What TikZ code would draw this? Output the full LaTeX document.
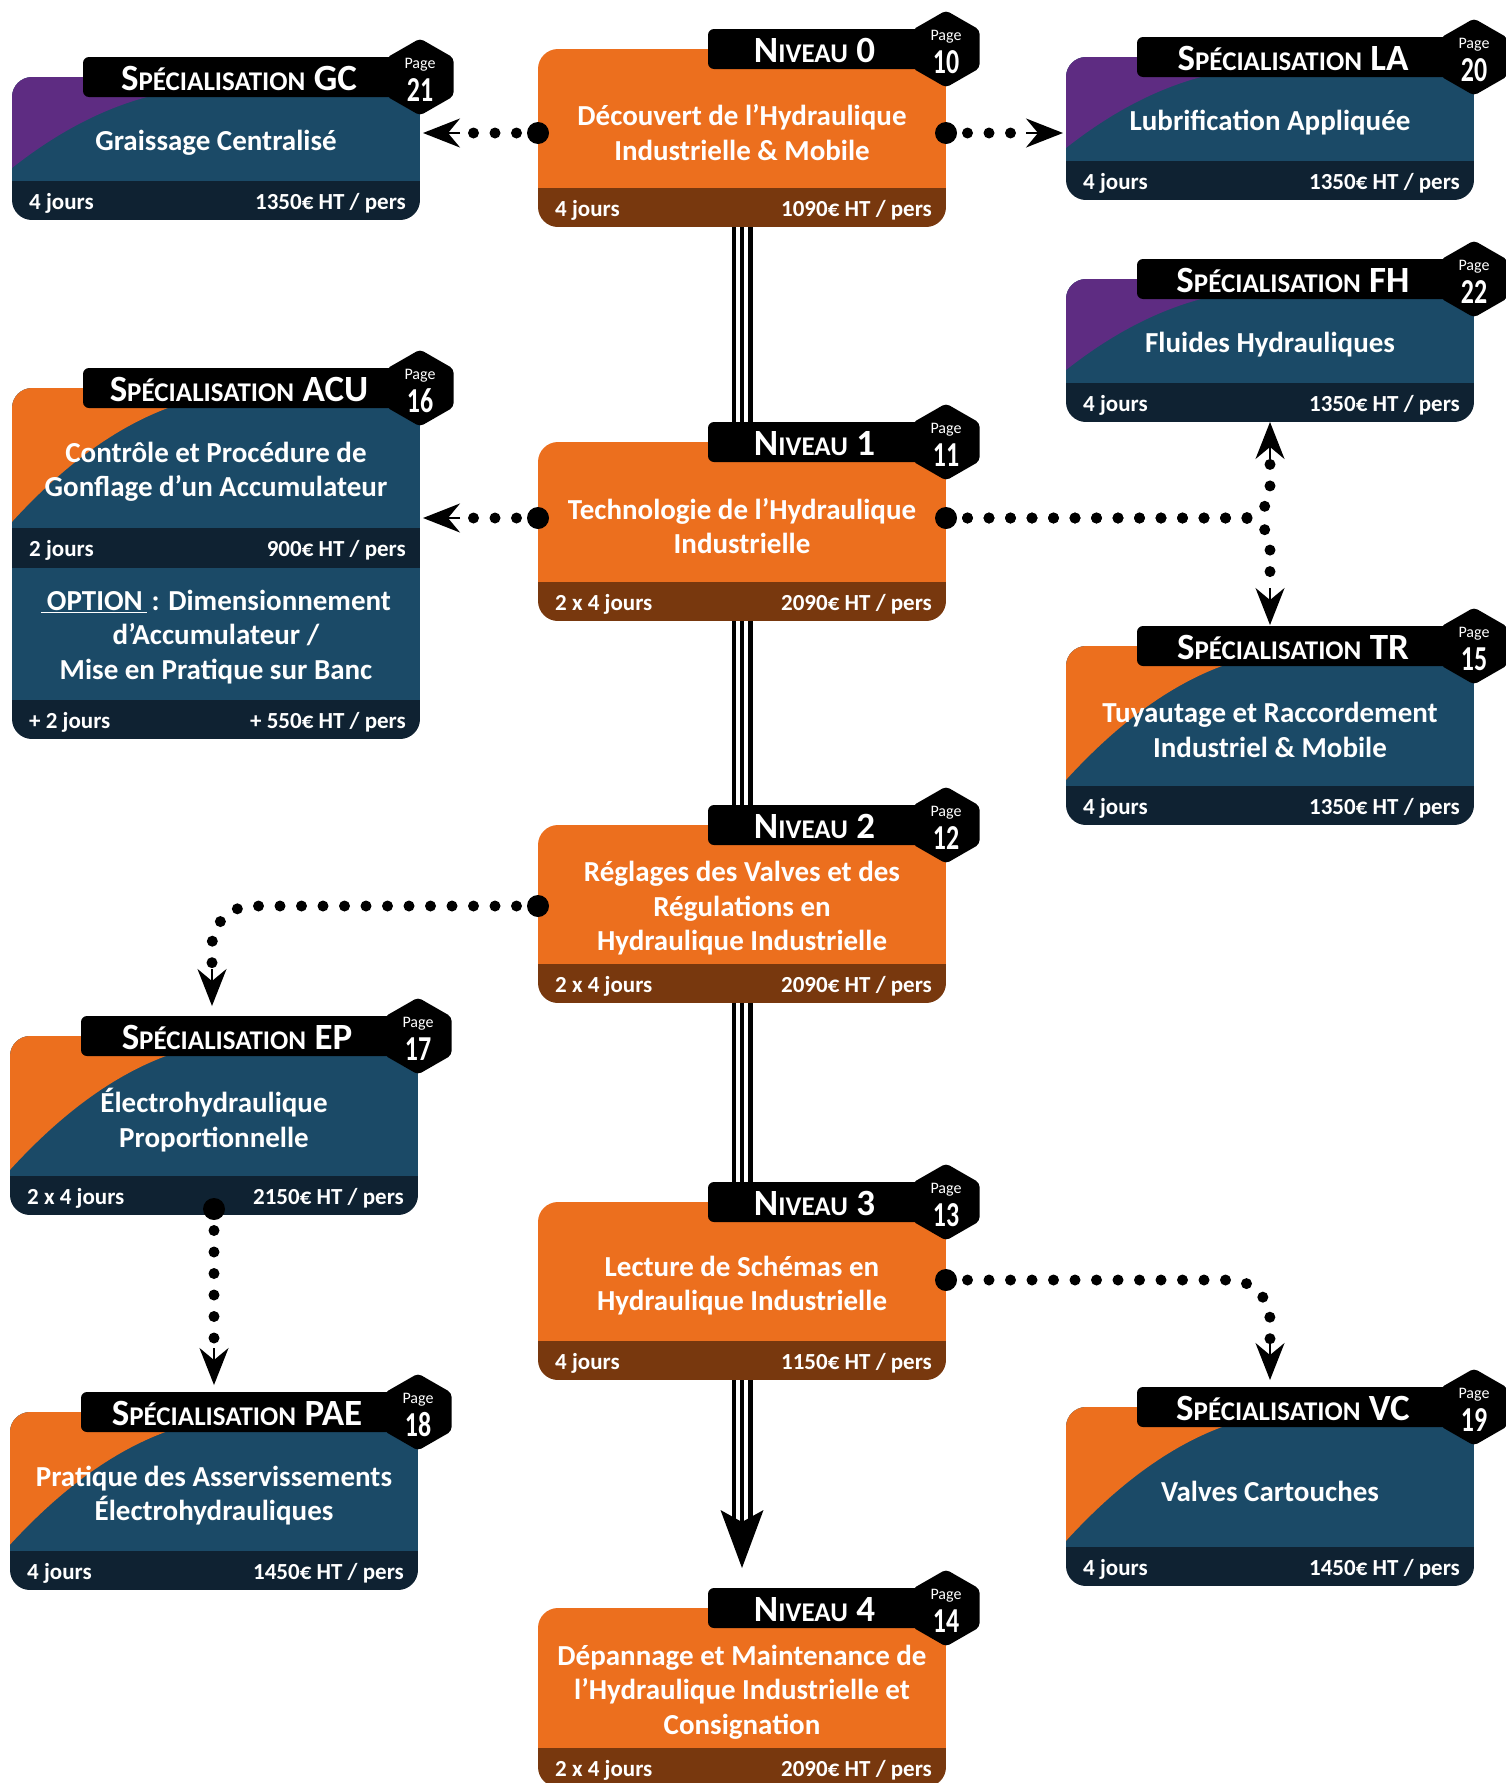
\documentclass[tikz,border=0pt]{standalone}
\usepackage{fontspec}
\setmainfont{Carlito}
\usepackage{graphicx}
\usetikzlibrary{arrows.meta,calc}
\pgfdeclarelayer{background}
\pgfsetlayers{background,main}
\definecolor{cOrange}{RGB}{236,111,30}
\definecolor{cBrown}{RGB}{120,56,14}
\definecolor{cBlue}{RGB}{27,74,103}
\definecolor{cDark}{RGB}{15,34,50}
\definecolor{cPurple}{RGB}{94,44,130}
\newcommand\sct[3]{{\fontsize{37}{37}\selectfont#1}{\fontsize{27}{27}\selectfont#2}{\fontsize{37}{37}\selectfont#3}}
\tikzset{
  dotsty/.style={line width=11pt, line cap=round, dash pattern=on 0pt off 21.5pt},
  tipsty/.style={-{Stealth[length=37pt,width=29pt,inset=12pt]}, line width=2pt},
  bodytxt/.style={text=white, align=center, inner sep=0pt, font=\fontsize{29}{34.5}\selectfont\bfseries},
  bandtxt/.style={text=white, inner sep=0pt, font=\fontsize{23}{23}\selectfont\bfseries},
  titletxt/.style={text=white, inner sep=0pt, font=\bfseries},
  pagetxt/.style={text=white, inner sep=0pt, font=\fontsize{16}{16}\selectfont},
  numtxt/.style={text=white, inner sep=0pt, font=\fontsize{35}{35}\selectfont\bfseries},
  trip/.style={line width=4.5pt, double=white, double distance=12pt},
  tripc/.style={line width=4pt},
  boxnode/.style={anchor=north west, minimum width=408, inner sep=0pt, outer sep=0pt}
}
\newcommand\hexa[2]{%
  \fill[black, rounded corners=4] (#1,{#2-38.5}) -- ({#1+33.5},{#2-19.25}) -- ({#1+33.5},{#2+19.25}) -- (#1,{#2+38.5}) -- ({#1-33.5},{#2+19.25}) -- ({#1-33.5},{#2-19.25}) -- cycle;}
% #1 name, #2 L, #3 T, #4 B, #5 type n/s, #6 corner colour, #7 title, #8 page, #9 body
\newcommand\mkbox[9]{%
  \def\bx{#2}\def\by{#3}\def\bb{#4}%
  \node[boxnode, minimum height={#4+39}] (#1) at (#2,#3) {};
  \begin{scope}
    \clip[rounded corners=20] (#2,#3) rectangle ++(408,{#4+39});
    \if#5n
      \fill[cOrange] (#2,#3) rectangle ++(408,#4);
      \fill[cBrown] (#2,{#3+#4}) rectangle ++(408,39);
    \else
      \fill[cBlue] (#2,#3) rectangle ++(408,#4);
      \pgfmathsetmacro\swd{13-(#4-104)*0.19}%
      \pgfmathsetmacro\swc{135+(#4-104)*0.58}%
      \pgfmathsetmacro\swy{#3+#4-\swd}%
      \pgfmathsetmacro\swdy{\swy-(#3+20)}%
      \pgfmathsetmacro\swex{25*\swc/(0.5*\swdy)}%
      \fill[#6] ({#2-5},\swy) -- (#2,\swy) .. controls ({#2+\swc/3},{\swy-0.5*\swdy}) and ({#2+2*\swc/3},{#3+20+0.17*\swdy}) .. ({#2+\swc},{#3+20}) -- ({#2+\swc+\swex},{#3-5}) -- ({#2-5},{#3-5}) -- cycle;
      \fill[cDark] (#2,{#3+#4}) rectangle ++(408,39);
    \fi
  \end{scope}
  \if#5n\def\toff{170}\else\def\toff{71}\fi
  \fill[black, rounded corners=6] ({#2+\toff},{#3-20}) rectangle ({#2+408},{#3+20});
  \hexa{#2+408}{#3}
  \node[titletxt, anchor=base] at ({#2+\toff+(408-\toff-33)/2+4},{#3+13}) {#7};
  \node[pagetxt, anchor=base] at ({#2+408},{#3-9}) {Page};
  \node[numtxt, anchor=base] at ({#2+408},{#3+24}) {\scalebox{0.74}[1]{#8}};
  \node[bodytxt] at ({#2+204},{#3+#4/2+14}) {#9};
}
\newcommand\mkband[2]{%
  \node[bandtxt, anchor=base west] at ({\bx+17},{\by+\bb+28}) {#1};
  \node[bandtxt, anchor=base east] at ({\bx+394},{\by+\bb+28}) {#2};
}
\begin{document}
\begin{tikzpicture}[x=1pt,y=-1pt]
\useasboundingbox (0,0) rectangle (1505,1783);

% ACU lower extension
\begin{scope}
  \clip[rounded corners=20] (12,500) rectangle (420,739);
  \fill[cDark] (12,500) rectangle (420,739);
  \fill[cBlue] (12,568) rectangle (420,700);
\end{scope}

% centre column
\mkbox{n0}{538}{49}{139}{n}{}{\sct{N}{IVEAU}{\ 0}}{10}{Découvert de l’Hydraulique\\Industrielle \& Mobile}
\mkband{4 jours}{1090€ HT / pers}
\mkbox{n1}{538}{442}{140}{n}{}{\sct{N}{IVEAU}{\ 1}}{11}{Technologie de l’Hydraulique\\Industrielle}
\mkband{2 x 4 jours}{2090€ HT / pers}
\mkbox{n2}{538}{825}{139}{n}{}{\sct{N}{IVEAU}{\ 2}}{12}{Réglages des Valves et des\\Régulations en\\Hydraulique Industrielle}
\mkband{2 x 4 jours}{2090€ HT / pers}
\mkbox{n3}{538}{1202}{139}{n}{}{\sct{N}{IVEAU}{\ 3}}{13}{Lecture de Schémas en\\Hydraulique Industrielle}
\mkband{4 jours}{1150€ HT / pers}
\mkbox{n4}{538}{1608}{140}{n}{}{\sct{N}{IVEAU}{\ 4}}{14}{Dépannage et Maintenance de\\l’Hydraulique Industrielle et\\Consignation}
\mkband{2 x 4 jours}{2090€ HT / pers}

% left column
\mkbox{gc}{12}{77}{104}{s}{cPurple}{\sct{S}{PÉCIALISATION}{\ GC}}{21}{Graissage Centralisé}
\mkband{4 jours}{1350€ HT / pers}
\mkbox{acu}{12}{388}{140}{s}{cOrange}{\sct{S}{PÉCIALISATION}{\ ACU}}{16}{Contrôle et Procédure de\\Gonflage d’un Accumulateur}
\mkband{2 jours}{900€ HT / pers}
\node[bodytxt] (acuopt) at (216,637) {\underline{\hspace{6pt}OPTION\hspace{4pt}}\,: Dimensionnement\\d’Accumulateur /\\Mise en Pratique sur Banc};
\node[bandtxt, anchor=base west] (acud) at (29,728) {+ 2 jours};
\node[bandtxt, anchor=base east] (acup) at (406,728) {+ 550€ HT / pers};
\mkbox{ep}{10}{1036}{140}{s}{cOrange}{\sct{S}{PÉCIALISATION}{\ EP}}{17}{Électrohydraulique\\Proportionnelle}
\mkband{2 x 4 jours}{2150€ HT / pers}
\mkbox{pae}{10}{1412}{139}{s}{cOrange}{\sct{S}{PÉCIALISATION}{\ PAE}}{18}{Pratique des Asservissements\\Électrohydrauliques}
\mkband{4 jours}{1450€ HT / pers}

% right column
\mkbox{la}{1066}{57}{104}{s}{cPurple}{\sct{S}{PÉCIALISATION}{\ LA}}{20}{Lubrification Appliquée}
\mkband{4 jours}{1350€ HT / pers}
\mkbox{fh}{1066}{279}{104}{s}{cPurple}{\sct{S}{PÉCIALISATION}{\ FH}}{22}{Fluides Hydrauliques}
\mkband{4 jours}{1350€ HT / pers}
\mkbox{tr}{1066}{646}{140}{s}{cOrange}{\sct{S}{PÉCIALISATION}{\ TR}}{15}{Tuyautage et Raccordement\\Industriel \& Mobile}
\mkband{4 jours}{1350€ HT / pers}
\mkbox{vc}{1066}{1407}{140}{s}{cOrange}{\sct{S}{PÉCIALISATION}{\ VC}}{19}{Valves Cartouches}
\mkband{4 jours}{1450€ HT / pers}

% ports
\coordinate (n0-l) at ($(n0.north west)+(0,84)$);
\coordinate (n0-r) at ($(n0.north east)+(0,84)$);
\coordinate (gc-r) at ($(gc.north east)+(3,56)$);
\coordinate (la-l) at ($(la.north west)+(-3,76)$);
\coordinate (n1-l) at ($(n1.north west)+(0,76)$);
\coordinate (n1-r) at ($(n1.north east)+(0,76)$);
\coordinate (acu-r) at ($(acu.north east)+(3,130)$);
\coordinate (fh-b) at ($(fh.south west)+(204,0)$);
\coordinate (tr-t) at ($(tr.north west)+(204,-21)$);
\coordinate (n2-l) at ($(n2.north west)+(0,81)$);
\coordinate (ep-t) at ($(ep.north west)+(202,-30)$);
\coordinate (ep-b) at ($(ep.south west)+(204,-6)$);
\coordinate (pae-t) at ($(pae.north west)+(204,-27)$);
\coordinate (n3-r) at ($(n3.north east)+(0,78)$);
\coordinate (vc-t) at ($(vc.north west)+(204,-27)$);
\coordinate (n4-t) at ($(n4.north)+(0,-40)$);

% main triple-line links
\begin{pgfonlayer}{background}
  \draw[trip] (n0.south) -- (n1.north);
  \draw[tripc] (n0.south) -- (n1.north);
  \draw[trip] (n1.south) -- (n2.north);
  \draw[tripc] (n1.south) -- (n2.north);
  \draw[trip] (n2.south) -- (n3.north);
  \draw[tripc] (n2.south) -- (n3.north);
  \draw[trip] (n3.south) -- ($(n4-t)+(0,-46)$);
  \draw[tripc] (n3.south) -- ($(n4-t)+(0,-46)$);
\end{pgfonlayer}
\fill (n4-t) -- ++(21.5,-58) -- ++(-21.5,12) -- ++(-21.5,-12) -- cycle;

% dotted links
\draw[dotsty] (n0-l) -- ($(gc-r)+(40,0)$);
\draw[tipsty] ($(gc-r)+(37,0)$) -- (gc-r);
\draw[dotsty] (n0-r) -- ($(la-l)+(-40,0)$);
\draw[tipsty] ($(la-l)+(-37,0)$) -- (la-l);
\draw[dotsty] (n1-l) -- ($(acu-r)+(40,0)$);
\draw[tipsty] ($(acu-r)+(37,0)$) -- (acu-r);
\draw[dotsty, rounded corners=28] (n1-r) -- (fh-b |- n1-r) -- ($(fh-b)+(0,40)$);
\draw[tipsty] ($(fh-b)+(0,37)$) -- (fh-b);
\draw[dotsty, rounded corners=28] (n1-r) -- (tr-t |- n1-r) -- ($(tr-t)+(0,-40)$);
\draw[tipsty] ($(tr-t)+(0,-37)$) -- (tr-t);
\draw[dotsty, rounded corners=40] (n2-l) -- (ep-t |- n2-l) -- ($(ep-t)+(0,-40)$);
\draw[tipsty] ($(ep-t)+(0,-37)$) -- (ep-t);
\draw[dotsty] (ep-b) -- ($(pae-t)+(0,-40)$);
\draw[tipsty] ($(pae-t)+(0,-37)$) -- (pae-t);
\draw[dotsty, rounded corners=40] (n3-r) -- (vc-t |- n3-r) -- ($(vc-t)+(0,-40)$);
\draw[tipsty] ($(vc-t)+(0,-37)$) -- (vc-t);
\foreach \p in {n0-l,n0-r,n1-l,n1-r,n2-l,n3-r,ep-b} \fill (\p) circle (11);
\end{tikzpicture}
\end{document}
